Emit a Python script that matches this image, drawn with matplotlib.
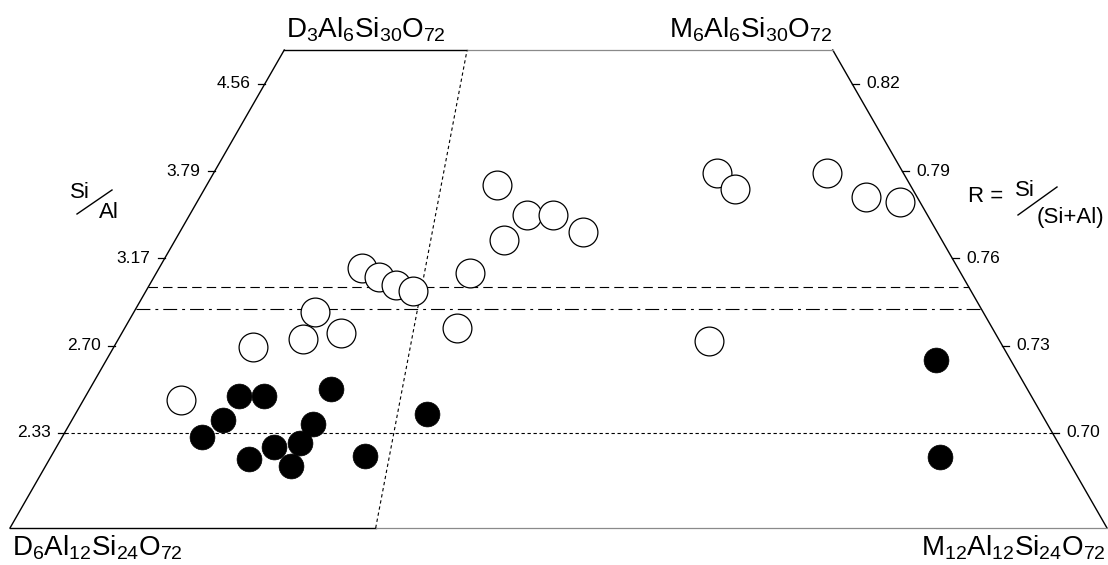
import numpy as np
import matplotlib.pyplot as plt
from matplotlib.lines import Line2D
from matplotlib.transforms import offset_copy

plt.rcParams['font.family'] = 'Liberation Sans'
plt.rcParams['mathtext.fontset'] = 'custom'
plt.rcParams['mathtext.rm'] = 'Liberation Sans'

# vertical scale is R = Si/(Si+Al)
r_bottom, r_top = 0.6672, 0.8317

r_ticks = [0.82, 0.79, 0.76, 0.73, 0.70]
r_labels = ['0.82', '0.79', '0.76', '0.73', '0.70']
ratio_labels = ['4.56', '3.79', '3.17', '2.70', '2.33']

# f = fraction across the field (0 = D end-member side, 1 = M side)
open_f = [0.1022, 0.1565, 0.2102, 0.2132, 0.2508, 0.2537, 0.2784, 0.3014,
          0.3240, 0.3824, 0.3901, 0.4122, 0.4293, 0.4569, 0.4921, 0.5319,
          0.6709, 0.7293, 0.7492, 0.8895, 0.9292, 0.9723]
open_r = [0.7113, 0.7295, 0.7322, 0.7416, 0.7342, 0.7566, 0.7537, 0.7508,
          0.7488, 0.7361, 0.7548, 0.7852, 0.7663, 0.7749, 0.7749, 0.7692,
          0.7317, 0.7893, 0.7839, 0.7893, 0.7810, 0.7795]

filled_f = [0.1624, 0.1886, 0.2571, 0.1550, 0.1405, 0.2492, 0.2414,
            0.2167, 0.1963, 0.2390, 0.3092, 0.3637, 0.9174, 0.8755]
filled_r = [0.7126, 0.7126, 0.7149, 0.7044, 0.6986, 0.7030, 0.6964,
            0.6950, 0.6908, 0.6885, 0.6920, 0.7064, 0.7250, 0.6915]

divider_f = 1 / 3
dashed_r = 0.75
dashdot_r = 0.7425
dotted_r = 0.70

corner_labels = [r'$\mathrm{D_3Al_6Si_{30}O_{72}}$', r'$\mathrm{M_6Al_6Si_{30}O_{72}}$',
                 r'$\mathrm{D_6Al_{12}Si_{24}O_{72}}$', r'$\mathrm{M_{12}Al_{12}Si_{24}O_{72}}$']


def to_xy(f, r):
    # trapezoid: bottom spans 0..1, top spans 0.25..0.75
    f = np.asarray(f, dtype=float)
    t = (np.asarray(r, dtype=float) - r_bottom) / (r_top - r_bottom)
    return 0.25 * t + f * (1 - 0.5 * t), np.asarray(r, dtype=float)


W, H = 1108, 565
fig = plt.figure(figsize=(W / 100, H / 100), dpi=100)
ax = fig.add_axes([10 / W, 37 / H, 1097 / W, 478 / H])
ax.set_xlim(0, 1)
ax.set_ylim(r_bottom, r_top)
ax.axis('off')

# outline
def seg(f0, r0, f1, r1, **kw):
    x0, y0 = to_xy(f0, r0)
    x1, y1 = to_xy(f1, r1)
    ax.plot([x0, x1], [y0, y1], clip_on=False, **kw)

seg(0, r_bottom, 0, r_top, color='black', lw=1.0)
seg(1, r_bottom, 1, r_top, color='black', lw=1.0)
seg(0, r_top, divider_f, r_top, color='black', lw=1.0)
seg(0, r_bottom, divider_f, r_bottom, color='black', lw=1.0)
seg(divider_f, r_top, 1, r_top, color='#8a8a8a', lw=0.9)
seg(divider_f, r_bottom, 1, r_bottom, color='#8a8a8a', lw=0.9)

# reference lines
seg(divider_f, r_bottom, divider_f, r_top, color='black', lw=0.8, ls=(0, (3.0, 2.6)))
seg(0, dashed_r, 1, dashed_r, color='black', lw=0.8, ls=(0, (8.5, 4.6)))
seg(0, dashdot_r, 1, dashdot_r, color='black', lw=0.8, ls=(0, (12.5, 4.5, 2.6, 4.5)))
seg(0, dotted_r, 1, dotted_r, color='black', lw=0.8, ls=(0, (3.0, 2.4)))

# ticks
px = 1 / 1097
for r, lab_l, lab_r in zip(r_ticks, ratio_labels, r_labels):
    xl, _ = to_xy(0, r)
    xr, _ = to_xy(1, r)
    ax.plot([xl - 7 * px, xl], [r, r], color='black', lw=0.9, clip_on=False)
    ax.plot([xr, xr + 7 * px], [r, r], color='black', lw=0.9, clip_on=False)
    ax.text(xl, r, lab_l, fontsize=12.5, ha='right', va='center',
            transform=offset_copy(ax.transData, fig=fig, x=-14, y=0, units='dots'))
    ax.text(xr, r, lab_r, fontsize=12.5, ha='left', va='center',
            transform=offset_copy(ax.transData, fig=fig, x=14, y=0, units='dots'))

# data points
ox, oy = to_xy(open_f, open_r)
ax.scatter(ox, oy, s=430, facecolor='white', edgecolor='black', linewidth=0.9,
           zorder=3, clip_on=False)
fx, fy = to_xy(filled_f, filled_r)
ax.scatter(fx, fy, s=320, facecolor='black', edgecolor='black', linewidth=0.5,
           zorder=4, clip_on=False)

# end-member labels
fig.text(366 / W, 1 - 37 / H, corner_labels[0], fontsize=20, ha='center', va='baseline')
fig.text(750 / W, 1 - 37 / H, corner_labels[1], fontsize=20, ha='center', va='baseline')
fig.text(12 / W, 1 - 556 / H, corner_labels[2], fontsize=20, ha='left', va='baseline')
fig.text(1105 / W, 1 - 556 / H, corner_labels[3], fontsize=20, ha='right', va='baseline')

# axis titles
fig.text(80 / W, 1 - 192 / H, 'Si', fontsize=16, ha='center', va='center')
fig.text(109 / W, 1 - 212 / H, 'Al', fontsize=16, ha='center', va='center')
fig.add_artist(Line2D([77 / W, 112 / W], [1 - 214 / H, 1 - 190 / H], color='black', lw=1.0))

fig.text(968 / W, 1 - 196 / H, 'R =', fontsize=16, ha='left', va='center')
fig.text(1025 / W, 1 - 190 / H, 'Si', fontsize=16, ha='center', va='center')
fig.add_artist(Line2D([1018 / W, 1057 / W], [1 - 215 / H, 1 - 187 / H], color='black', lw=1.0))
fig.text(1070 / W, 1 - 218 / H, '(Si+Al)', fontsize=16, ha='center', va='center')

fig.savefig('out.png', dpi=100)
